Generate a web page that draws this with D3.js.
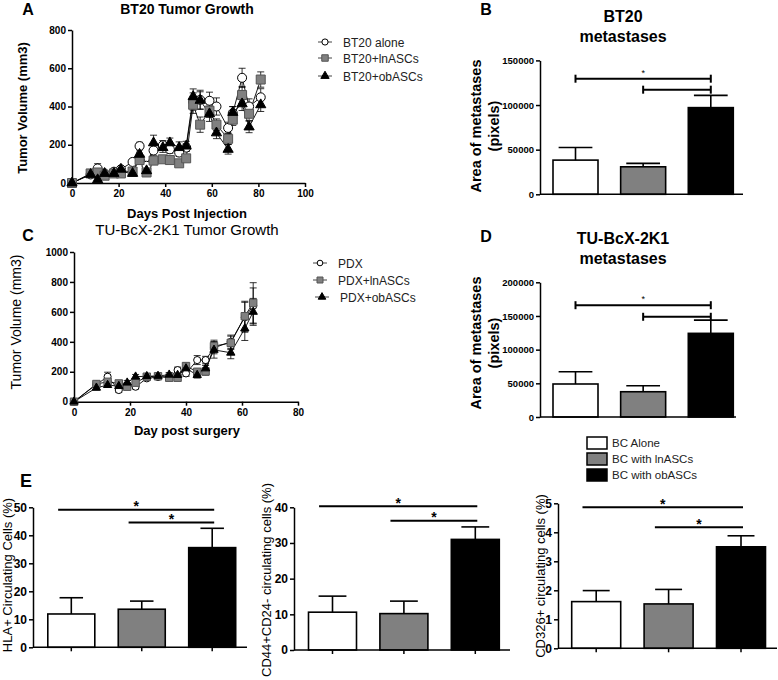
<!DOCTYPE html>
<html>
<head>
<meta charset="utf-8">
<script src="https://cdn.jsdelivr.net/npm/d3@7"></script>
<style>
  body { margin: 0; background: #fff; }
  svg { display: block; }
</style>
</head>
<body>
<div id="fig"></div>
<script>
///// DATA /////
// Panel A - BT20 tumor growth (mm3)
const daysA = [0, 8, 11, 14, 18, 21, 26, 29, 32, 35, 39, 42, 46, 49, 52, 55, 59, 62, 67, 69, 73, 76, 81];
const bt20Alone = [0, 45, 76, 50, 59, 72, 110, 193, 90, 170, 197, 176, 159, 185, 426, 435, 430, 400, 288, 365, 550, 400, 448];
const bt20Ln    = [0, 50, 55, 38, 50, 50, 60, 120, 55, 117, 124, 120, 103, 129, 409, 305, 378, 305, 231, 331, 460, 362, 541];
const bt20Ob    = [0, 45, 17, 50, 50, 72, 50, 150, 64, 210, 185, 210, 185, 193, 452, 432, 362, 262, 176, 369, 414, 293, 409];
const errAlone  = [0, 10, 25, 10, 10, 12, 15, 20, 15, 25, 25, 20, 20, 20, 45, 50, 45, 45, 30, 35, 50, 40, 45];
const errLn     = [0, 8, 15, 10, 8, 10, 12, 15, 10, 15, 15, 15, 12, 15, 45, 40, 35, 30, 30, 30, 45, 35, 40];
const errOb     = [0, 8, 8, 10, 8, 12, 10, 25, 12, 40, 25, 25, 30, 25, 40, 45, 40, 30, 25, 30, 35, 30, 35];

// Panel C - TU-BcX-2K1 tumor growth (mm3)
const daysC = [0, 8, 12, 16, 19, 22, 26, 30, 34, 37, 40, 44, 47, 50, 56, 61, 64];
const pdxAlone = [0, 115, 167, 78, 110, 100, 156, 165, 167, 211, 189, 278, 278, 360, 400, 564, 640];
const pdxLn    = [0, 118, 133, 122, 100, 127, 167, 170, 160, 160, 238, 200, 202, 371, 393, 571, 660];
const pdxOb    = [0, 93, 111, 104, 127, 167, 170, 172, 180, 178, 222, 178, 222, 346, 327, 489, 600];
const errPdx   = [0, 15, 30, 15, 15, 15, 15, 15, 15, 20, 20, 30, 25, 40, 45, 100, 120];
const errPdxLn = [0, 15, 20, 15, 15, 15, 15, 15, 15, 15, 20, 20, 25, 40, 45, 100, 135];
const errPdxOb = [0, 15, 15, 15, 15, 15, 15, 15, 15, 15, 20, 20, 20, 55, 40, 80, 90];

// Bar panels
const groups = ["BC Alone", "BC with lnASCs", "BC with obASCs"];
const metBT20 = [38300, 30800, 97100];
const metBT20Sem = [14100, 3800, 13700];
const metBT20Sig = [129500, 117200];
const metPDX = [49000, 37500, 124200];
const metPDXSem = [18200, 8900, 19700];
const metPDXSig = [166000, 148800];
const hla = [11.9, 13.6, 35.6];
const hlaSem = [5.8, 2.9, 6.9];
const hlaSig = [49.1, 44.6];
const cd44 = [10.6, 10.2, 31.0];
const cd44Sem = [4.5, 3.5, 3.5];
const cd44Sig = [40.3, 36.2];
const cd326 = [1.61, 1.53, 3.50];
const cd326Sem = [0.38, 0.50, 0.38];
const cd326Sig = [4.86, 4.17];

const FONT = '"Liberation Sans", Arial, Helvetica, sans-serif';
const barFill = d3.scaleOrdinal(groups, ["#ffffff", "#808080", "#000000"]);

const svg = d3.select("#fig").append("svg")
    .attr("width", 778)
    .attr("height", 680)
    .style("font-family", FONT);

///// HELPERS /////
function text(x, y, str, size, weight, anchor, rot) {
    const t = svg.append("text")
        .attr("font-size", size)
        .attr("font-weight", weight || "normal")
        .attr("text-anchor", anchor || "middle")
        .attr("fill", "#000")
        .text(str);
    if (rot) {
        t.attr("transform", `translate(${x},${y}) rotate(-90)`).attr("dy", "0.35em");
    } else {
        t.attr("x", x).attr("y", y);
    }
    return t;
}

function styleAxis(g, size) {
    g.attr("font-family", FONT).attr("font-size", size).attr("font-weight", "bold");
    g.select(".domain").attr("stroke", "#000").attr("stroke-width", 1.5);
    g.selectAll(".tick line").attr("stroke", "#000").attr("stroke-width", 1.5);
    g.selectAll(".tick text").attr("fill", "#000");
}

const markerShapes = {
    circle: { type: d3.symbolCircle, fill: "#fff", stroke: "#000" },
    square: { type: d3.symbolSquare, fill: "#808080", stroke: "#555" },
    triangle: { type: d3.symbolTriangle, fill: "#000", stroke: "#000" }
};

function growthPanel(cfg) {
    const x = d3.scaleLinear().domain(cfg.xDomain).range(cfg.xRange);
    const y = d3.scaleLinear().domain(cfg.yDomain).range(cfg.yRange);

    const gx = svg.append("g")
        .attr("transform", `translate(0,${y(0)})`)
        .call(d3.axisBottom(x).tickValues(cfg.xTicks).tickSize(4).tickSizeOuter(0).tickPadding(3));
    styleAxis(gx, cfg.tickFont);
    const gy = svg.append("g")
        .attr("transform", `translate(${x(0)},0)`)
        .call(d3.axisLeft(y).tickValues(cfg.yTicks).tickSize(4).tickSizeOuter(0).tickPadding(2).tickFormat(d3.format("d")));
    styleAxis(gy, cfg.tickFont);

    // error bars
    cfg.series.forEach(s => {
        const pts = cfg.days.map((d, i) => ({ d, v: s.values[i], e: s.errors[i] })).filter(p => p.e > 0);
        const g = svg.append("g").attr("stroke", "#000").attr("stroke-width", 0.8);
        g.selectAll("line.v").data(pts).join("line")
            .attr("x1", p => x(p.d)).attr("x2", p => x(p.d))
            .attr("y1", p => y(p.v - p.e)).attr("y2", p => y(p.v + p.e));
        g.selectAll("line.t").data(pts).join("line")
            .attr("x1", p => x(p.d) - 3.5).attr("x2", p => x(p.d) + 3.5)
            .attr("y1", p => y(p.v + p.e)).attr("y2", p => y(p.v + p.e));
        g.selectAll("line.b").data(pts).join("line")
            .attr("x1", p => x(p.d) - 3.5).attr("x2", p => x(p.d) + 3.5)
            .attr("y1", p => y(p.v - p.e)).attr("y2", p => y(p.v - p.e));
    });

    // lines + markers
    cfg.series.forEach(s => {
        const pts = cfg.days.map((d, i) => [d, s.values[i]]);
        svg.append("path").datum(pts)
            .attr("fill", "none").attr("stroke", "#000").attr("stroke-width", 0.9)
            .attr("d", d3.line().x(p => x(p[0])).y(p => y(p[1])));
    });
    cfg.series.forEach(s => {
        const m = markerShapes[s.shape];
        svg.append("g").selectAll("path").data(cfg.days.map((d, i) => [d, s.values[i]])).join("path")
            .attr("transform", p => `translate(${x(p[0])},${y(p[1])})`)
            .attr("d", d3.symbol().type(m.type).size(cfg.sizes[s.shape]))
            .attr("fill", m.fill).attr("stroke", m.stroke).attr("stroke-width", 1);
    });

    // legend
    cfg.series.forEach((s, i) => {
        const m = markerShapes[s.shape];
        const ly = cfg.legend.y[i];
        const lx = cfg.legend.x + (cfg.legend.dx ? cfg.legend.dx[i] : 0);
        svg.append("line").attr("x1", lx).attr("x2", lx + 14).attr("y1", ly).attr("y2", ly)
            .attr("stroke", "#444").attr("stroke-width", 1);
        svg.append("path").attr("transform", `translate(${lx + 7},${ly})`)
            .attr("d", d3.symbol().type(m.type).size(cfg.legend.sizes[s.shape]))
            .attr("fill", m.fill).attr("stroke", m.stroke).attr("stroke-width", 1);
        text(lx + 25, ly + 4.5, s.name, 12, "normal", "start").attr("fill", "#222");
    });
}

function barPanel(cfg) {
    const x = d3.scalePoint().domain(groups).range(cfg.centers);
    const y = d3.scaleLinear().domain(cfg.yDomain).range(cfg.yRange);
    const bw = cfg.bw;

    // bars
    svg.append("g").selectAll("rect").data(groups).join("rect")
        .attr("x", d => x(d) - bw / 2)
        .attr("y", (d, i) => y(cfg.means[i]))
        .attr("width", bw)
        .attr("height", (d, i) => y(0) - y(cfg.means[i]))
        .attr("fill", d => barFill(d))
        .attr("stroke", "#000").attr("stroke-width", 1.6);

    // error bars (upper only)
    const eg = svg.append("g").attr("stroke", "#000").attr("stroke-width", 1.6);
    eg.selectAll("line.v").data(groups).join("line")
        .attr("x1", d => x(d)).attr("x2", d => x(d))
        .attr("y1", (d, i) => y(cfg.means[i])).attr("y2", (d, i) => y(cfg.means[i] + cfg.sems[i]));
    eg.selectAll("line.c").data(groups).join("line")
        .attr("x1", d => x(d) - bw * cfg.cap / 2).attr("x2", d => x(d) + bw * cfg.cap / 2)
        .attr("y1", (d, i) => y(cfg.means[i] + cfg.sems[i])).attr("y2", (d, i) => y(cfg.means[i] + cfg.sems[i]));

    // axes
    const gy = svg.append("g")
        .attr("transform", `translate(${cfg.axisX[0]},0)`)
        .call(d3.axisLeft(y).tickValues(cfg.yTicks).tickSize(4).tickSizeOuter(0).tickPadding(2).tickFormat(d3.format("d")));
    styleAxis(gy, cfg.tickFont);
    svg.append("line")
        .attr("x1", cfg.axisX[0]).attr("x2", cfg.axisX[1])
        .attr("y1", y(0)).attr("y2", y(0))
        .attr("stroke", "#000").attr("stroke-width", 1.5);
    if (cfg.xTicks) {
        svg.append("g").selectAll("line").data(groups).join("line")
            .attr("x1", d => x(d)).attr("x2", d => x(d))
            .attr("y1", y(0)).attr("y2", y(0) + 4)
            .attr("stroke", "#000").attr("stroke-width", 1.5);
    }

    // significance lines: first spans group 0 -> 2, second 1 -> 2
    const spans = [[groups[0], groups[2]], [groups[1], groups[2]]];
    spans.forEach((sp, i) => {
        const ly = y(cfg.sig[i]);
        const x1 = cfg.bracket ? x(sp[0]) : x(sp[0]) - bw * 0.28;
        const x2 = cfg.bracket ? x(sp[1]) : x(sp[1]) + 2;
        svg.append("line").attr("x1", x1).attr("x2", x2).attr("y1", ly).attr("y2", ly)
            .attr("stroke", "#000").attr("stroke-width", 2);
        if (cfg.bracket) {
            [x1, x2].forEach(xx => svg.append("line").attr("x1", xx).attr("x2", xx)
                .attr("y1", ly - 4).attr("y2", ly + 4).attr("stroke", "#000").attr("stroke-width", 2));
            if (i === 0) text((x1 + x2) / 2, ly - 3, "*", 9, "normal");
        } else {
            text((x1 + x2) / 2, ly + 1.5, "*", 14, "bold");
        }
    });
}

///// PANEL A /////
text(28, 15, "A", 16, "bold");
text(187, 14, "BT20 Tumor Growth", 14, "bold");
growthPanel({
    xDomain: [0, 100], xRange: [72, 305],
    yDomain: [0, 800], yRange: [183, 30],
    xTicks: [0, 20, 40, 60, 80, 100], yTicks: [0, 200, 400, 600, 800],
    tickFont: 10,
    days: daysA,
    sizes: { circle: 64, square: 81, triangle: 45 },
    series: [
        { name: "BT20 alone", shape: "circle", values: bt20Alone, errors: errAlone },
        { name: "BT20+lnASCs", shape: "square", values: bt20Ln, errors: errLn },
        { name: "BT20+obASCs", shape: "triangle", values: bt20Ob, errors: errOb }
    ],
    legend: { x: 318, y: [42, 58, 76], sizes: { circle: 30, square: 42, triangle: 30 } }
});
text(187, 218, "Days Post Injection", 13, "bold");
text(22, 108, "Tumor Volume (mm3)", 13, "bold", "middle", true);

///// PANEL C /////
text(28, 241, "C", 16, "bold");
text(187, 235, "TU-BcX-2K1 Tumor Growth", 15, "normal");
growthPanel({
    xDomain: [0, 80], xRange: [74, 298],
    yDomain: [0, 1000], yRange: [401.7, 252],
    xTicks: [0, 20, 40, 60, 80], yTicks: [0, 200, 400, 600, 800, 1000],
    tickFont: 10,
    days: daysC,
    sizes: { circle: 40, square: 55, triangle: 30 },
    series: [
        { name: "PDX", shape: "circle", values: pdxAlone, errors: errPdx },
        { name: "PDX+lnASCs", shape: "square", values: pdxLn, errors: errPdxLn },
        { name: "PDX+obASCs", shape: "triangle", values: pdxOb, errors: errPdxOb }
    ],
    legend: { x: 313, y: [263, 280, 297], dx: [0, 0, 2], sizes: { circle: 25, square: 36, triangle: 25 } }
});
text(187, 435, "Day post surgery", 13, "bold");
text(16, 322, "Tumor Volume (mm3)", 14, "normal", "middle", true);

///// PANEL B /////
text(486, 15, "B", 16, "bold");
text(623, 22, "BT20", 16, "bold");
text(623, 42, "metastases", 16, "bold");
barPanel({
    centers: [575.5, 710.8], bw: 45, cap: 0.75,
    axisX: [540, 743],
    yDomain: [0, 150000], yRange: [194.3, 60.4],
    yTicks: [0, 50000, 100000, 150000], tickFont: 9.5,
    means: metBT20, sems: metBT20Sem, sig: metBT20Sig, bracket: true
});
text(476, 126, "Area of metastases", 14.5, "bold", "middle", true);
text(494, 126, "(pixels)", 14.5, "bold", "middle", true);

///// PANEL D /////
text(486, 242, "D", 16, "bold");
text(623, 244, "TU-BcX-2K1", 16, "bold");
text(623, 264, "metastases", 16, "bold");
barPanel({
    centers: [575.5, 710.8], bw: 45, cap: 0.75,
    axisX: [540, 736],
    yDomain: [0, 200000], yRange: [417, 282.3],
    yTicks: [0, 50000, 100000, 150000, 200000], tickFont: 9.5,
    means: metPDX, sems: metPDXSem, sig: metPDXSig, bracket: true
});
text(476, 343, "Area of metastases", 14.5, "bold", "middle", true);
text(494, 343, "(pixels)", 14.5, "bold", "middle", true);

///// LEGEND E /////
groups.forEach((gname, i) => {
    const ly = [443, 459, 475][i];
    svg.append("rect").attr("x", 587).attr("y", ly - 6).attr("width", 20).attr("height", 12)
        .attr("fill", barFill(gname)).attr("stroke", "#000").attr("stroke-width", 1.5);
    text(612, ly + 4, gname, 11.5, "normal", "start").attr("fill", "#222");
});

///// PANEL E /////
text(26, 487, "E", 18, "bold");
barPanel({
    centers: [71.3, 212.2], bw: 47, cap: 0.5,
    axisX: [33, 247],
    yDomain: [0, 50], yRange: [647.3, 507.3],
    yTicks: [0, 10, 20, 30, 40, 50], tickFont: 12,
    means: hla, sems: hlaSem, sig: hlaSig, xTicks: true
});
text(7, 575, "HLA+  Circulating Cells (%)", 13, "normal", "middle", true);

barPanel({
    centers: [332.5, 475.3], bw: 48, cap: 0.58,
    axisX: [294, 510],
    yDomain: [0, 40], yRange: [650, 507.3],
    yTicks: [0, 10, 20, 30, 40], tickFont: 12,
    means: cd44, sems: cd44Sem, sig: cd44Sig, xTicks: true
});
text(266, 580, "CD44+CD24- circulating cells (%)", 13, "normal", "middle", true);

barPanel({
    centers: [596.2, 741], bw: 49, cap: 0.55,
    axisX: [558, 777],
    yDomain: [0, 5], yRange: [648.3, 503.3],
    yTicks: [0, 1, 2, 3, 4, 5], tickFont: 12,
    means: cd326, sems: cd326Sem, sig: cd326Sig, xTicks: true
});
text(540, 576, "CD326+ circulating cells (%)", 13, "normal", "middle", true);
</script>
</body>
</html>
